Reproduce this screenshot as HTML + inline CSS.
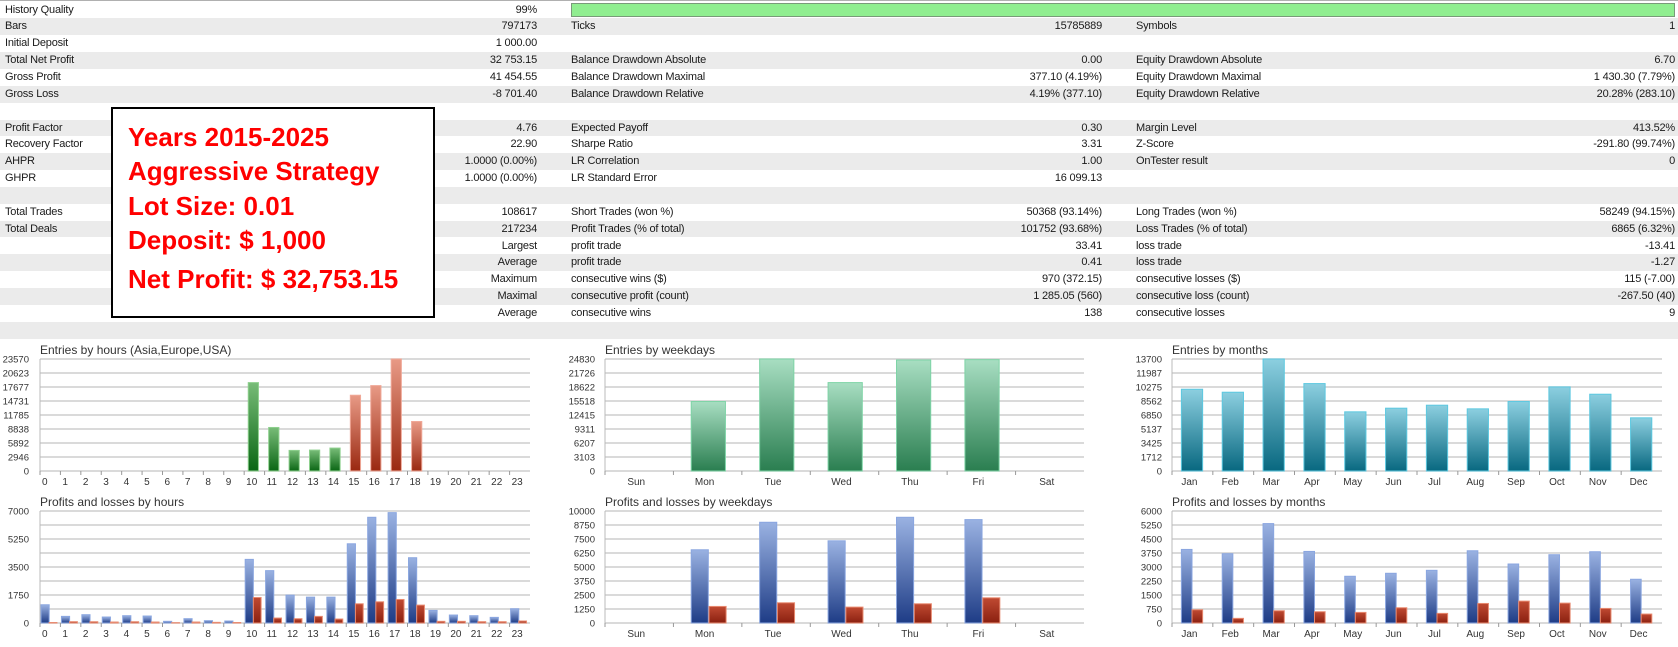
<!DOCTYPE html>
<html><head><meta charset="utf-8">
<style>
body{margin:0;width:1678px;height:647px;background:#fff;position:relative;overflow:hidden;font-family:"Liberation Sans",sans-serif;}
.r{position:absolute;left:0;width:1678px;height:16.85px;}
.g{background:#ebebeb;}
.t{position:absolute;font-size:11px;letter-spacing:-0.2px;color:#1a1a1a;white-space:nowrap;line-height:16.85px;}
.rt{text-align:right;}
#box{position:absolute;left:111px;top:107px;width:320px;height:207px;border:2px solid #000;background:#fff;}
#box div{position:absolute;left:15px;color:#f00;font-weight:bold;font-size:26px;white-space:nowrap;}
svg{position:absolute;left:0;top:0;}
</style></head><body>
<div style="position:absolute;left:0;top:0;width:1678px;height:1px;background:#b0b0b0"></div>
<div id="tbl"></div>
<div style="position:absolute;left:571px;top:3px;width:1102px;height:12px;background:#90ee90;border:1px solid #7a9a7a"></div>
<div id="box">
<div style="top:13px">Years 2015-2025</div>
<div style="top:47px">Aggressive Strategy</div>
<div style="top:82px">Lot Size: 0.01</div>
<div style="top:116px">Deposit: $ 1,000</div>
<div style="top:155px">Net Profit: $ 32,753.15</div>
</div>
<svg id="ch" width="1678" height="647"></svg>
<script>
var rows=[
["History Quality","99%","","","",""],
["Bars","797173","Ticks","15785889","Symbols","1"],
["Initial Deposit","1 000.00","","","",""],
["Total Net Profit","32 753.15","Balance Drawdown Absolute","0.00","Equity Drawdown Absolute","6.70"],
["Gross Profit","41 454.55","Balance Drawdown Maximal","377.10 (4.19%)","Equity Drawdown Maximal","1 430.30 (7.79%)"],
["Gross Loss","-8 701.40","Balance Drawdown Relative","4.19% (377.10)","Equity Drawdown Relative","20.28% (283.10)"],
["","","","","",""],
["Profit Factor","4.76","Expected Payoff","0.30","Margin Level","413.52%"],
["Recovery Factor","22.90","Sharpe Ratio","3.31","Z-Score","-291.80 (99.74%)"],
["AHPR","1.0000 (0.00%)","LR Correlation","1.00","OnTester result","0"],
["GHPR","1.0000 (0.00%)","LR Standard Error","16 099.13","",""],
["","","","","",""],
["Total Trades","108617","Short Trades (won %)","50368 (93.14%)","Long Trades (won %)","58249 (94.15%)"],
["Total Deals","217234","Profit Trades (% of total)","101752 (93.68%)","Loss Trades (% of total)","6865 (6.32%)"],
["","Largest","profit trade","33.41","loss trade","-13.41"],
["","Average","profit trade","0.41","loss trade","-1.27"],
["","Maximum","consecutive wins ($)","970 (372.15)","consecutive losses ($)","115 (-7.00)"],
["","Maximal","consecutive profit (count)","1 285.05 (560)","consecutive loss (count)","-267.50 (40)"],
["","Average","consecutive wins","138","consecutive losses","9"],
["","","","","",""]];
var h="";
rows.forEach(function(r,i){
 var y=1.6+16.85*i;
 h+='<div class="r'+(i%2?' g':'')+'" style="top:'+y+'px"></div>';
 h+='<div class="t" style="left:5px;top:'+y+'px">'+r[0]+'</div>';
 h+='<div class="t rt" style="right:'+(1678-537)+'px;top:'+y+'px">'+r[1]+'</div>';
 h+='<div class="t" style="left:571px;top:'+y+'px">'+r[2]+'</div>';
 h+='<div class="t rt" style="right:'+(1678-1102)+'px;top:'+y+'px">'+r[3]+'</div>';
 h+='<div class="t" style="left:1136px;top:'+y+'px">'+r[4]+'</div>';
 h+='<div class="t rt" style="right:'+(1678-1675)+'px;top:'+y+'px">'+r[5]+'</div>';
});
document.getElementById('tbl').innerHTML=h;

var s='<defs>'+
'<linearGradient id="gG" x1="0" y1="0" x2="0" y2="1"><stop offset="0" stop-color="#78bc78"/><stop offset="1" stop-color="#0a6614"/></linearGradient>'+
'<linearGradient id="gR" x1="0" y1="0" x2="0" y2="1"><stop offset="0" stop-color="#e89a86"/><stop offset="1" stop-color="#9a2810"/></linearGradient>'+
'<linearGradient id="gW" x1="0" y1="0" x2="0" y2="1"><stop offset="0" stop-color="#a8dec2"/><stop offset="1" stop-color="#2a7e50"/></linearGradient>'+
'<linearGradient id="gT" x1="0" y1="0" x2="0" y2="1"><stop offset="0" stop-color="#8ccfe0"/><stop offset="1" stop-color="#086880"/></linearGradient>'+
'<linearGradient id="gB" x1="0" y1="0" x2="0" y2="1"><stop offset="0" stop-color="#9ab2e2"/><stop offset="1" stop-color="#1e3c86"/></linearGradient>'+
'<linearGradient id="gL" x1="0" y1="0" x2="0" y2="1"><stop offset="0" stop-color="#c04a32"/><stop offset="1" stop-color="#8a2010"/></linearGradient>'+
'</defs>';
function chart(o){
 var L=o.L,R=o.R,top=o.top,zero=top+112,n=o.cats.length,cw=(R-L)/n;
 s+='<text x="'+o.L+'" y="'+(top-5)+'" font-size="12" fill="#333">'+o.title+'</text>';
 for(var k=0;k<=8;k++){var y=top+14*k;
  s+='<line x1="'+L+'" x2="'+R+'" y1="'+y+'" y2="'+y+'" stroke="#cdcdcd" stroke-width="1.6"/>';
  if(o.labels[k]!==undefined&&o.labels[k]!=="")s+='<text x="'+o.yl+'" y="'+(y+3.5)+'" font-size="9.5" text-anchor="end" fill="#333">'+o.labels[k]+'</text>';}
 s+='<line x1="'+L+'" x2="'+L+'" y1="'+top+'" y2="'+(zero+4)+'" stroke="#bbb"/>';
 for(var i=0;i<n;i++){var x=L+cw*i;
  s+='<line x1="'+x+'" x2="'+x+'" y1="'+zero+'" y2="'+(zero+4)+'" stroke="#999"/>';
  s+='<text x="'+(o.lstart?x+2:x+cw/2-3)+'" y="'+(zero+14)+'" font-size="10" text-anchor="'+(o.lstart?'start':'middle')+'" fill="#333">'+o.cats[i]+'</text>';
  o.bars.forEach(function(b){var v=b.v[i];if(!v)return;var hh=Math.min(112,v/o.max*112);
   s+='<rect x="'+(x+b.o*cw)+'" y="'+(zero-hh)+'" width="'+(b.w*cw)+'" height="'+hh+'" fill="url(#'+(typeof b.c=="string"?b.c:b.c[i])+')" stroke="'+(typeof b.s=="string"?b.s:b.s[i])+'" stroke-width="1"/>';});
 }
}
var hrs=[];for(var i=0;i<24;i++)hrs.push(""+i);
var eh=[0,0,0,0,0,0,0,0,0,0,18604,9162,4336,4406,4826,15946,17974,23570,10421,0,0,0,0,0];
var hc=[],hs=[];for(i=0;i<24;i++){hc.push(i<15?"gG":"gR");hs.push(i<15?"#8ed08e":"#f0a898");}
chart({L:40,R:530,top:359,yl:29,title:"Entries by hours (Asia,Europe,USA)",cats:hrs,lstart:1,max:23570,
 labels:["23570","20623","17677","14731","11785","8838","5892","2946","0"],
 bars:[{v:eh,o:0.2,w:0.5,c:hc,s:hs}]});
chart({L:40,R:530,top:511,yl:29,title:"Profits and losses by hours",cats:hrs,lstart:1,max:7000,
 labels:["7000","","5250","","3500","","1750","","0"],
 bars:[{v:[1139,414,518,373,456,435,104,269,145,124,3976,3272,1740,1615,1615,4950,6607,6897,4080,787,497,456,352,890],o:0.05,w:0.4,c:"gB",s:"#8aa6e0"},
 {v:[30,83,80,60,80,60,20,60,40,30,1595,311,269,414,248,1201,1325,1470,1118,104,104,83,83,124],o:0.45,w:0.38,c:"gL",s:"#e88a70"}]});
var wd=["Sun","Mon","Tue","Wed","Thu","Fri","Sat"];
chart({L:605,R:1084,top:359,yl:595,title:"Entries by weekdays",cats:wd,max:24830,
 labels:["24830","21726","18622","15518","12415","9311","6207","3103","0"],
 bars:[{v:[0,15400,24830,19598,24610,24683,0],o:0.26,w:0.5,c:"gW",s:"#7ed4a6"}]});
chart({L:605,R:1084,top:511,yl:595,title:"Profits and losses by weekdays",cats:wd,max:10000,
 labels:["10000","8750","7500","6250","5000","3750","2500","1250","0"],
 bars:[{v:[0,6538,8994,7337,9438,9231,0],o:0.26,w:0.25,c:"gB",s:"#8aa6e0"},
 {v:[0,1479,1805,1420,1716,2249,0],o:0.52,w:0.25,c:"gL",s:"#e88a70"}]});
var mo=["Jan","Feb","Mar","Apr","May","Jun","Jul","Aug","Sep","Oct","Nov","Dec"];
chart({L:1172,R:1662,top:359,yl:1162,title:"Entries by months",cats:mo,max:13700,
 labels:["13700","11987","10275","8562","6850","5137","3425","1712","0"],
 bars:[{v:[10001,9635,13700,10692,7236,7683,8049,7602,8497,10285,9391,6504],o:0.23,w:0.52,c:"gT",s:"#5cc8e0"}]});
chart({L:1172,R:1662,top:511,yl:1162,title:"Profits and losses by months",cats:mo,max:6000,
 labels:["6000","5250","4500","3750","3000","2250","1500","750","0"],
 bars:[{v:[3941,3710,5325,3834,2503,2663,2822,3870,3160,3657,3817,2343],o:0.23,w:0.26,c:"gB",s:"#8aa6e0"},
 {v:[710,249,657,604,568,817,515,1047,1172,1065,781,479],o:0.49,w:0.26,c:"gL",s:"#e88a70"}]});
document.getElementById('ch').innerHTML=s;
</script>
</body></html>
